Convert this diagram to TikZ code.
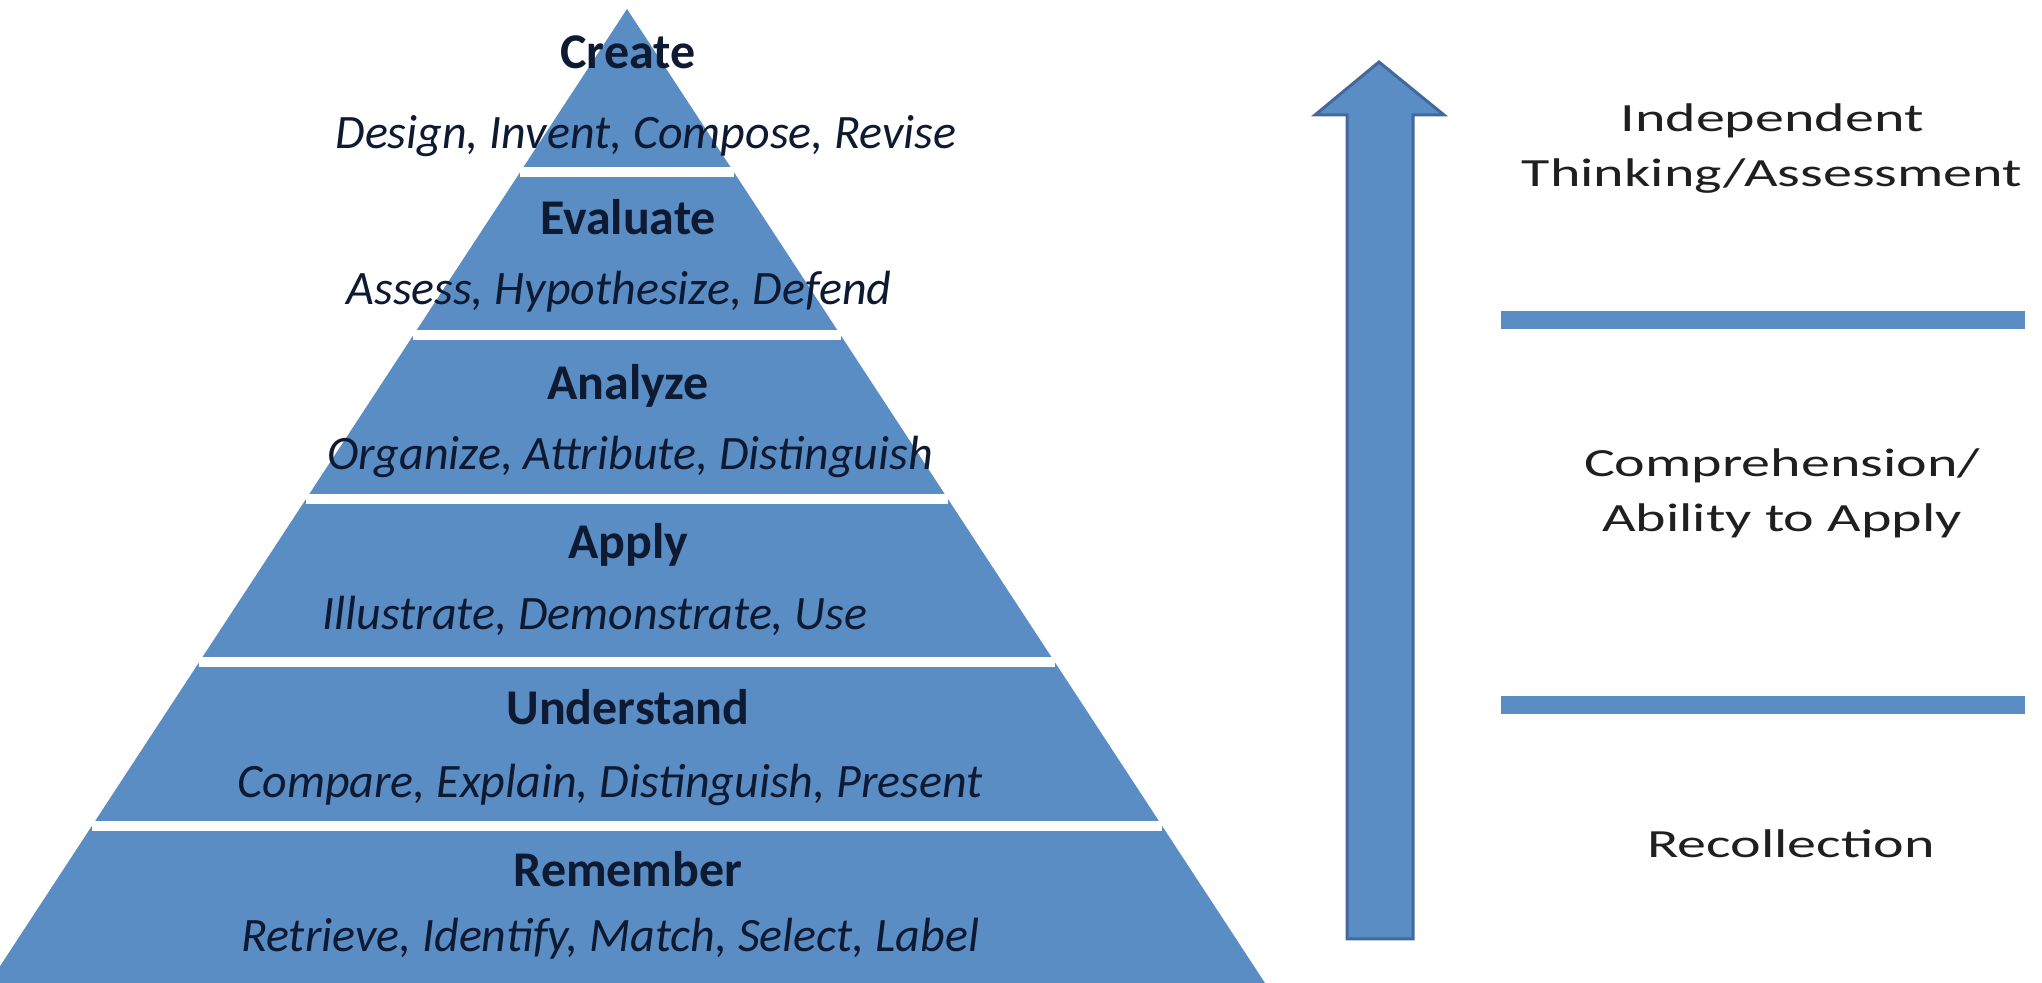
\documentclass[tikz,border=0pt]{standalone}
\usepackage{fontspec}
\setmainfont{Carlito}
\newfontfamily\sidefont[FakeStretch=1.45]{Carlito}
\definecolor{pyrblue}{RGB}{91,141,197}
\definecolor{pyredge}{RGB}{66,104,158}
\definecolor{pyrtext}{RGB}{14,26,50}
\begin{document}
\begin{tikzpicture}[x=0.5pt,y=-0.5pt,
    level/.style={anchor=base, text=pyrtext, font=\fontsize{25}{30}\selectfont\bfseries},
    verbs/.style={anchor=base, text=pyrtext, font=\fontsize{24}{29}\selectfont\itshape},
    side/.style={align=center, text=black!88, font=\sidefont\fontsize{20}{27.5}\selectfont}]
    \useasboundingbox (0,0) rectangle (2042,983);

    % pyramid
    \coordinate (apex) at (627,9);
    \fill[pyrblue] (apex) -- (1265,983) -- (-11,983) -- cycle;
    \foreach \y [count=\i] in {172, 335.5, 499, 662.5, 826} {
        \pgfmathsetmacro{\w}{0.655*(\y-9)}
        \coordinate (sepL\i) at (627-\w, \y);
        \coordinate (sepR\i) at (627+\w, \y);
        \draw[white, line width=5] (sepL\i) -- (sepR\i);
    }

    \node[level] (create) at (628, 69) {Create};
    \node[verbs] (createv) at (646, 149) {Design, Invent, Compose, Revise};
    \node[level] (evaluate) at (628, 235) {Evaluate};
    \node[verbs] (evaluatev) at (619, 305) {Assess, Hypothesize, Defend};
    \node[level] (analyze) at (628, 400) {Analyze};
    \node[verbs] (analyzev) at (630, 470) {Organize, Attribute, Distinguish};
    \node[level] (apply) at (628, 559) {Apply};
    \node[verbs] (applyv) at (595, 630) {Illustrate, Demonstrate, Use};
    \node[level] (understand) at (628, 725) {Understand};
    \node[verbs] (understandv) at (610, 798) {Compare, Explain, Distinguish, Present};
    \node[level] (remember) at (628, 887) {Remember};
    \node[verbs] (rememberv) at (610, 951) {Retrieve, Identify, Match, Select, Label};

    % arrow
    \filldraw[fill=pyrblue, draw=pyredge, line width=1.5]
        (1379,62) -- (1444,115) -- (1413,115) -- (1413,939)
        -- (1347,939) -- (1347,115) -- (1315,115) -- cycle;

    % right side
    \coordinate (lineA) at (1501,320);
    \coordinate (lineB) at (1501,705);
    \draw[pyrblue, line width=9] (lineA) -- ++(524,0);
    \draw[pyrblue, line width=9] (lineB) -- ++(524,0);

    \node[side] (independent) at (1772,149) {Independent\\Thinking/Assessment};
    \node[side] (comprehension) at (1782,493) {Comprehension/\\Ability to Apply};
    \node[side] (recollection) at (1791,844) {Recollection};
\end{tikzpicture}
\end{document}
